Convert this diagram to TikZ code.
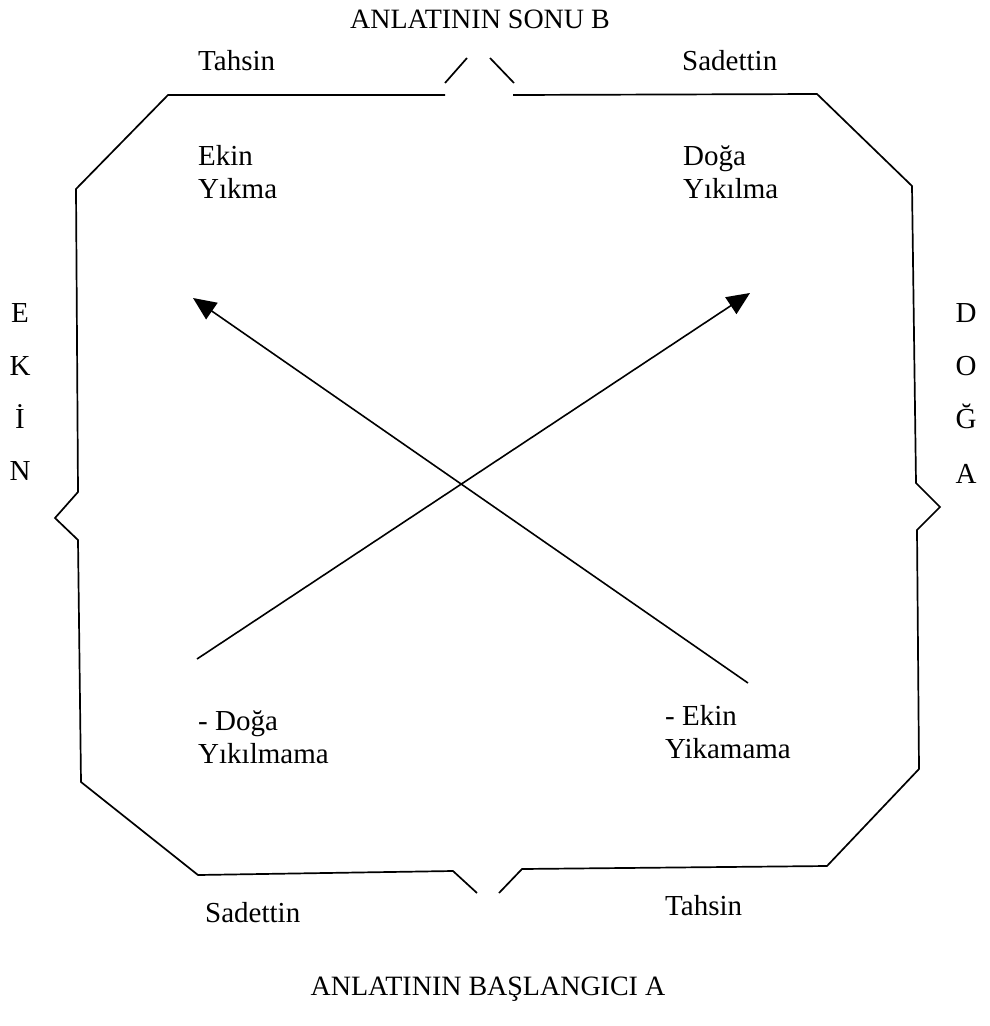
\documentclass[tikz,border=0pt]{standalone}
\usepackage{fontspec}
\setmainfont{Liberation Serif}
\usetikzlibrary{arrows.meta}
\begin{document}
\begin{tikzpicture}[x=1pt,y=-1pt,
  frame/.style={line width=1.7pt,line join=miter},
  lbl/.style={anchor=base west,inner sep=0pt,font=\fontsize{29}{34}\selectfont},
  captxt/.style={anchor=base,inner sep=0pt,font=\fontsize{28}{32}\selectfont},
  sideletter/.style={anchor=base,inner sep=0pt,font=\fontsize{29}{34}\selectfont},
  arr/.style={line width=1.6pt,-{Triangle[length=23pt,width=20pt]}}]
\useasboundingbox (0,0) rectangle (990,1026);
% frame
\draw[frame] (445,95) -- (168,95) -- (76,189) -- (78,492) -- (55,518) -- (78,540)
  -- (81,782) -- (198,875) -- (453,871) -- (477,893);
\draw[frame] (499,893) -- (522,869) -- (827,866) -- (919,769) -- (917,530)
  -- (940,507) -- (916,483) -- (912,186) -- (817,94) -- (513,95);
\draw[frame] (445,83) -- (467,58);
\draw[frame] (490,58) -- (514,83);
% captions
\node[captxt] (capB) at (480,28) {ANLATININ SONU B};
\node[captxt] (capA) at (488,995) {ANLATININ BAŞLANGICI A};
\node[lbl] (tahT) at (198,70) {Tahsin};
\node[lbl] (sadT) at (682,70) {Sadettin};
\node[lbl] (sadB) at (205,922) {Sadettin};
\node[lbl] (tahB) at (665,915) {Tahsin};
% corner labels
\node[lbl] (ek1) at (198,165) {Ekin};
\node[lbl] (ek2) at (198,198) {Yıkma};
\node[lbl] (do1) at (683,165) {Doğa};
\node[lbl] (do2) at (683,198) {Yıkılma};
\node[lbl] (nd1) at (198,730) {- Doğa};
\node[lbl] (nd2) at (198,763) {Yıkılmama};
\node[lbl] (ne1) at (665,725) {- Ekin};
\node[lbl] (ne2) at (665,758) {Yikamama};
% side letters
\node[sideletter] (lE) at (20,322) {E};
\node[sideletter] (lK) at (20,375) {K};
\node[sideletter] (lI) at (20,428) {İ};
\node[sideletter] (lN) at (20,480) {N};
\node[sideletter] (rD) at (966,322) {D};
\node[sideletter] (rO) at (966,375) {O};
\node[sideletter] (rG) at (966,428) {Ğ};
\node[sideletter] (rA) at (966,483) {A};
% arrows
\coordinate (a1s) at (748,683);
\coordinate (a1e) at (193,298);
\coordinate (a2s) at (197,659);
\coordinate (a2e) at (750,293);
\draw[arr] (a1s) -- (a1e);
\draw[arr] (a2s) -- (a2e);
\end{tikzpicture}
\end{document}
